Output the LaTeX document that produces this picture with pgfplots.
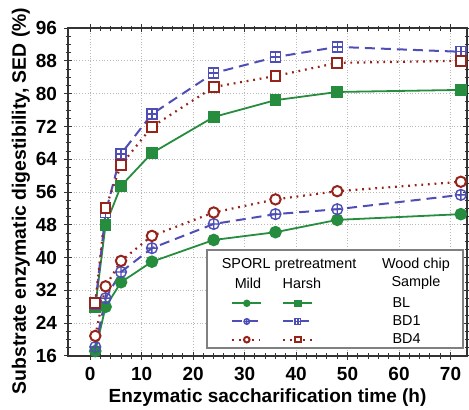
\documentclass[border=0pt]{standalone}
\usepackage{pgfplots}
\pgfplotsset{compat=1.18}
\usepackage{fontspec}
\setmainfont{Liberation Sans}

\definecolor{cgreen}{RGB}{38,140,62}
\definecolor{cblue}{RGB}{78,78,182}
\definecolor{cred}{RGB}{150,36,26}

% square with a cross, for the harsh BD1 series
\pgfdeclareplotmark{boxplus}{%
  \pgfpathrectangle{\pgfqpoint{-\pgfplotmarksize}{-\pgfplotmarksize}}{\pgfqpoint{2\pgfplotmarksize}{2\pgfplotmarksize}}%
  \pgfusepathqfillstroke
  \pgfpathmoveto{\pgfqpoint{-\pgfplotmarksize}{0pt}}\pgfpathlineto{\pgfqpoint{\pgfplotmarksize}{0pt}}%
  \pgfpathmoveto{\pgfqpoint{0pt}{-\pgfplotmarksize}}\pgfpathlineto{\pgfqpoint{0pt}{\pgfplotmarksize}}%
  \pgfusepathqstroke}

\pgfplotsset{
  mildBL/.style={cgreen, line width=0.9pt, mark=*, mark size=2.7pt, mark options={solid, fill=cgreen}},
  harshBL/.style={cgreen, line width=0.9pt, mark=square*, mark size=2.5pt, mark options={solid, fill=cgreen}},
  mildBD1/.style={cblue, line width=1pt, dash pattern=on 5pt off 3pt, mark=oplus, mark size=2.7pt, mark options={solid, line width=0.7pt, fill=white}},
  harshBD1/.style={cblue, line width=1pt, dash pattern=on 5pt off 3pt, mark=boxplus, mark size=2.5pt, mark options={solid, line width=0.7pt, fill=white}},
  mildBD4/.style={cred, line width=1.1pt, dash pattern=on 0.9pt off 2.4pt, mark=*, mark size=2.6pt, mark options={solid, line width=1pt, fill=white}},
  harshBD4/.style={cred, line width=1.1pt, dash pattern=on 0.9pt off 2.4pt, mark=square*, mark size=2.4pt, mark options={solid, line width=1pt, fill=white}},
}

\begin{document}
\begin{tikzpicture}[x=1pt,y=1pt]
\useasboundingbox (-34,-27) rectangle (200.5,178);
\begin{axis}[
  at={(0,0)}, anchor=south west,
  scale only axis,
  width=199.5pt, height=164pt,
  xmin=-4.3, xmax=73.2,
  ymin=16, ymax=96,
  xtick={0,10,...,70},
  ytick={16,24,...,96},
  minor x tick num=4,
  minor y tick num=3,
  tick align=center,
  major tick length=4pt,
  minor tick length=2.5pt,
  every tick/.style={black!80, line width=0.5pt},
  axis line style={black!80, line width=0.7pt},
  grid=major,
  grid style={gray!55, densely dotted, line width=0.5pt},
  tick label style={font=\fontsize{9.5}{10}\selectfont\bfseries},
  /pgf/number format/assume math mode=true,
  xlabel={Enzymatic saccharification time (h)},
  ylabel={Substrate enzymatic digestibility, SED (\%)},
  xlabel style={font=\fontsize{9.5}{10}\selectfont\bfseries, yshift=3pt},
  ylabel style={font=\fontsize{9.7}{10}\selectfont\bfseries, yshift=-4pt, xshift=-4.5pt},
  clip=false,
  legend columns=2,
  legend cell align=left,
  legend style={at={(rel axis cs:0.408,0.186)}, anchor=north west, draw=none, fill=none,
    font=\fontsize{7.2}{8}\selectfont, inner sep=0pt, row sep=1.2pt,
    nodes={inner sep=0.5pt, text height=5.4pt, text depth=1.5pt},
    /tikz/every even column/.append style={column sep=9pt}},
  legend image code/.code={\draw[mark repeat=2,mark phase=2,#1] plot coordinates {(0pt,0pt) (7.25pt,0pt) (14.5pt,0pt)};},
  legend image post style={mark size=1.4pt},
]
% mild SPORL
\addplot[mildBL, forget plot] coordinates {(1,17.2) (3,28) (6,34) (12,39) (24,44.3) (36,46.2) (48,49.2) (72,50.6)};
\addplot[mildBD1, forget plot] coordinates {(1,18.2) (3,30.1) (6,36.5) (12,42.3) (24,48.2) (36,50.6) (48,51.8) (72,55.3)};
\addplot[mildBD4, forget plot] coordinates {(1,20.9) (3,33) (6,39.2) (12,45.3) (24,51) (36,54.2) (48,56.2) (72,58.5)};
% harsh SPORL
\addplot[harshBL, forget plot] coordinates {(1,28) (3,48) (6,57.5) (12,65.5) (24,74.3) (36,78.4) (48,80.4) (72,80.9)};
\addplot[harshBD1, forget plot] coordinates {(1,28.5) (3,51) (6,65.3) (12,75) (24,85) (36,88.9) (48,91.4) (72,90.2)};
\addplot[harshBD4, forget plot] coordinates {(1,29) (3,52.1) (6,62.6) (12,71.9) (24,81.6) (36,84.3) (48,87.5) (72,88)};

% legend frame and headers
\draw[gray, line width=0.8pt, fill=white] (rel axis cs:0.348,0.024) rectangle (rel axis cs:0.99,0.323);
\node[font=\fontsize{7.2}{8}\selectfont] at (rel axis cs:0.554,0.277) {SPORL pretreatment};
\node[font=\fontsize{7.2}{8}\selectfont] at (rel axis cs:0.872,0.277) {Wood chip};
\node[font=\fontsize{7.2}{8}\selectfont] at (rel axis cs:0.451,0.222) {Mild};
\node[font=\fontsize{7.2}{8}\selectfont] at (rel axis cs:0.586,0.222) {Harsh};
\node[font=\fontsize{7.2}{8}\selectfont] at (rel axis cs:0.872,0.222) {Sample};

\addlegendimage{mildBL}\addlegendentry{}
\addlegendimage{harshBL}\addlegendentry{\hspace*{39pt}BL}
\addlegendimage{mildBD1}\addlegendentry{}
\addlegendimage{harshBD1}\addlegendentry{\hspace*{39pt}BD1}
\addlegendimage{mildBD4}\addlegendentry{}
\addlegendimage{harshBD4}\addlegendentry{\hspace*{39pt}BD4}
\end{axis}
\end{tikzpicture}
\end{document}
